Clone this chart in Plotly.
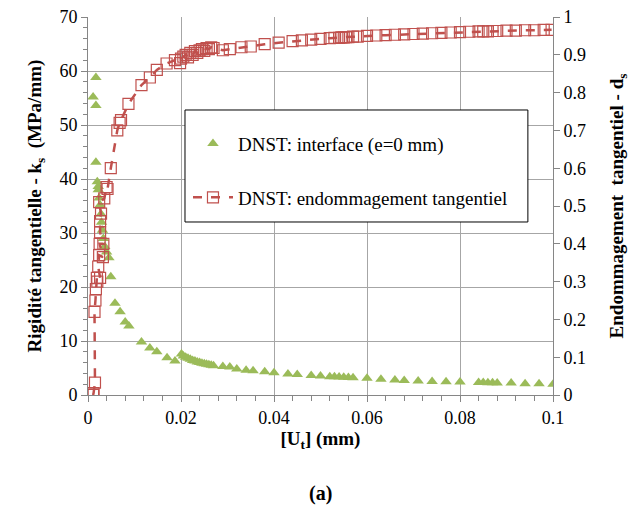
import plotly.graph_objects as go

# Green series: tangential stiffness k_s (MPa/mm) vs [Ut] (mm)
ks_x = [0.0011, 0.0017, 0.0017, 0.0017, 0.0020, 0.0022, 0.0022, 0.0024, 0.0026, 0.0028,
        0.0029, 0.0031, 0.0033, 0.0036, 0.0040, 0.0045, 0.0049, 0.0058, 0.0069, 0.0080,
        0.0088, 0.0115, 0.0133, 0.0148, 0.0170, 0.0187, 0.0201, 0.0205, 0.0210, 0.0215,
        0.0220, 0.0225, 0.0230, 0.0235, 0.0240, 0.0245, 0.0250, 0.0255, 0.0260, 0.0265,
        0.0270, 0.0290, 0.0305, 0.0320, 0.0340, 0.0355, 0.0380, 0.0400, 0.0430, 0.0450,
        0.0480, 0.0500, 0.0520, 0.0530, 0.0540, 0.0550, 0.0560, 0.0570, 0.0600, 0.0630,
        0.0660, 0.0680, 0.0710, 0.0740, 0.0770, 0.0800, 0.0840, 0.0850, 0.0860, 0.0870,
        0.0880, 0.0910, 0.0940, 0.0970, 0.1000]
ks_y = [55.2, 58.8, 53.6, 43.1, 39.5, 38.6, 38.0, 36.5, 35.2, 33.5,
        32.0, 30.5, 29.0, 27.5, 26.5, 25.4, 21.9, 17.0, 15.4, 13.5,
        12.8, 9.8, 8.7, 8.0, 6.9, 6.3, 7.6, 7.2, 7.0, 6.8,
        6.6, 6.4, 6.3, 6.1, 6.0, 5.9, 5.8, 5.7, 5.6, 5.5,
        5.4, 5.3, 5.2, 4.8, 4.6, 4.5, 4.3, 4.1, 3.9, 3.8,
        3.6, 3.5, 3.4, 3.4, 3.35, 3.3, 3.25, 3.2, 3.1, 2.9,
        2.8, 2.7, 2.6, 2.5, 2.45, 2.4, 2.3, 2.3, 2.25, 2.25,
        2.2, 2.2, 2.1, 2.1, 2.0]

# Red series: tangential damage d_s vs [Ut] (mm)
ds_x = [0.0011, 0.0012, 0.0015, 0.0014, 0.0016, 0.0017, 0.0019, 0.0020, 0.0026, 0.0022,
        0.0024, 0.0032, 0.0025, 0.0033, 0.0026, 0.0026, 0.0028, 0.0024, 0.0035, 0.0040,
        0.0042, 0.0049, 0.0063, 0.0068, 0.0071, 0.0087, 0.0115, 0.0133, 0.0148, 0.0169,
        0.0187, 0.0198, 0.0200, 0.0205, 0.0210, 0.0215, 0.0220, 0.0225, 0.0230, 0.0235,
        0.0240, 0.0245, 0.0250, 0.0255, 0.0260, 0.0265, 0.0270, 0.0290, 0.0305, 0.0330,
        0.0350, 0.0380, 0.0410, 0.0440, 0.0460, 0.0480, 0.0500, 0.0520, 0.0530, 0.0540,
        0.0545, 0.0550, 0.0555, 0.0560, 0.0570, 0.0580, 0.0600, 0.0620, 0.0640, 0.0660,
        0.0680, 0.0700, 0.0720, 0.0740, 0.0760, 0.0780, 0.0800, 0.0820, 0.0840, 0.0850,
        0.0860, 0.0870, 0.0880, 0.0900, 0.0920, 0.0940, 0.0960, 0.0980, 0.0997]
ds_y = [0.0, 0.005, 0.033, 0.22, 0.25, 0.28, 0.31, 0.30, 0.31, 0.34,
        0.37, 0.365, 0.40, 0.40, 0.43, 0.46, 0.48, 0.51, 0.52, 0.55,
        0.545, 0.60, 0.70, 0.72, 0.727, 0.77, 0.82, 0.84, 0.86, 0.877,
        0.886, 0.878, 0.89, 0.895, 0.90, 0.893, 0.905, 0.90, 0.91, 0.905,
        0.912, 0.915, 0.91, 0.918, 0.915, 0.92, 0.918, 0.912, 0.915, 0.92,
        0.922, 0.928, 0.932, 0.936, 0.938, 0.94, 0.942, 0.944, 0.945, 0.945,
        0.946, 0.946, 0.947, 0.947, 0.948, 0.948, 0.95, 0.951, 0.952, 0.953,
        0.954, 0.955, 0.956, 0.957, 0.958, 0.959, 0.96, 0.961, 0.962, 0.962,
        0.962, 0.963, 0.963, 0.964, 0.964, 0.965, 0.965, 0.966, 0.966]

GREEN = "#9bbb59"
RED = "#c0504d"
FONT = "Liberation Serif"

def f(size):
    return dict(family=FONT, size=size, color="black")

fig = go.Figure()
fig.add_trace(go.Scatter(
    x=ks_x, y=ks_y, mode="markers", name="DNST: interface (e=0 mm)",
    marker=dict(symbol="triangle-up", size=10, color=GREEN, line=dict(width=0)),
    legendgroup="a"))
fig.add_trace(go.Scatter(
    x=ds_x, y=ds_y, mode="lines+markers", name="DNST: endommagement tangentiel",
    yaxis="y2", line=dict(color=RED, width=2.5, dash="dash"),
    marker=dict(symbol="square-open", size=11, color=RED, line=dict(width=1.2)),
    legendgroup="b"))

grid = "#a6a6a6"
axline = "#868686"
fig.update_layout(
    template="none",
    width=643, height=512,
    margin=dict(l=88, r=90, t=17, b=117, autoexpand=False),
    paper_bgcolor="white", plot_bgcolor="white",
    font=f(18),
    showlegend=True,
    legend=dict(x=0.215, y=0.715, xanchor="left", yanchor="top",
                borderwidth=0, bgcolor="rgba(0,0,0,0)",
                font=f(19), traceorder="grouped",
                tracegroupgap=26, itemwidth=40),
    shapes=[dict(type="rect", xref="paper", yref="paper",
                 x0=0.2086, x1=0.946, y0=0.4577, y1=0.754,
                 line=dict(color="black", width=1), fillcolor="white", layer="above")],
    xaxis=dict(range=[0, 0.1], dtick=0.02, tick0=0, showgrid=True, gridcolor=grid,
               gridwidth=1, zeroline=False, showline=True, linecolor=axline,
               ticks="outside", ticklen=6, tickcolor=axline, automargin=False,
               tickformat="~g", tickfont=f(18),
               minor=dict(dtick=0.004, ticks="outside", ticklen=5, tickcolor=axline,
                          showgrid=False),
               title=dict(text="<b>[U<sub>t</sub>] (mm)</b>", font=f(19), standoff=4)),
    yaxis=dict(range=[0, 70], dtick=10, showgrid=True, gridcolor=grid, gridwidth=1,
               zeroline=False, showline=True, linecolor=axline, automargin=False,
               ticks="outside", ticklen=6, tickcolor=axline, tickfont=f(18),
               minor=dict(dtick=2, ticks="outside", ticklen=4, tickcolor=axline,
                          showgrid=False),
               title=dict(text="<b>Rigidité tangentielle - k<sub>s</sub>  (MPa/mm)</b>",
                          font=f(19), standoff=12)),
    yaxis2=dict(range=[0, 1], dtick=0.1, overlaying="y", side="right", showgrid=False,
                zeroline=False, showline=True, linecolor=axline, automargin=False,
                ticks="outside", ticklen=6, tickcolor=axline, tickformat="~g",
                tickfont=f(18),
                title=dict(text="<b>Endommagement  tangentiel - d<sub>s</sub></b>",
                           font=f(19), standoff=24)),
    annotations=[dict(text="<b>(a)</b>", x=0.5, y=-0.26, xref="paper", yref="paper",
                      xanchor="center", yanchor="middle", showarrow=False,
                      font=f(20))],
)

fig.write_html("out.html", config={"displayModeBar": False},
               post_script="document.body.style.margin='0';")
